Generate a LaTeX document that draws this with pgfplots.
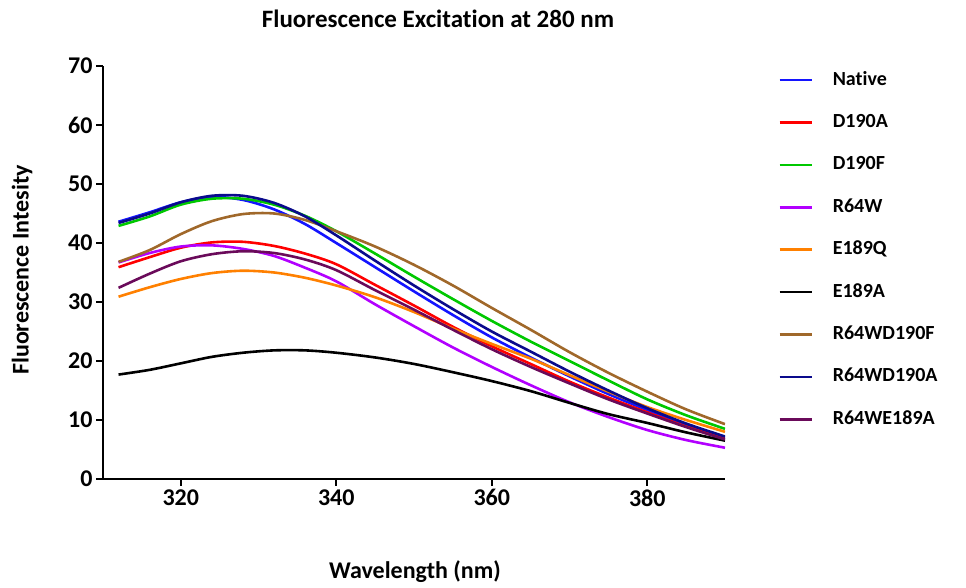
\documentclass[border=0pt]{standalone}
\usepackage{fontspec}
\setmainfont{Carlito}[Ligatures=NoCommon]
\usepackage{pgfplots}
\pgfplotsset{compat=1.18}
\definecolor{cNative}{RGB}{20,20,255}
\definecolor{cD190A}{RGB}{255,0,0}
\definecolor{cD190F}{RGB}{0,200,0}
\definecolor{cR64W}{RGB}{178,0,255}
\definecolor{cE189Q}{RGB}{255,128,0}
\definecolor{cE189A}{RGB}{0,0,0}
\definecolor{cR64WD190F}{RGB}{160,104,42}
\definecolor{cR64WD190A}{RGB}{10,10,140}
\definecolor{cR64WE189A}{RGB}{106,10,90}
\begin{document}
\begin{tikzpicture}
\path[use as bounding box] (0,0) rectangle (966pt,588pt);
\begin{axis}[
  at={(103pt,109pt)}, anchor=south west,
  width=622pt, height=413pt, scale only axis,
  xmin=310, xmax=390, ymin=0, ymax=70,
  axis x line*=bottom, axis y line*=left,
  axis line style={-, line width=2pt},
  xtick={320,340,360,380}, ytick={0,10,...,70},
  tick align=outside, major tick length=7pt,
  tick style={line width=2pt, black},
  ticklabel style={font=\fontsize{24}{28}\selectfont\bfseries},
  /pgf/number format/assume math mode=true,
  /pgf/number format/1000 sep={},
  every axis plot/.append style={line width=2.6pt, smooth, no markers},
  legend image code/.code={\draw[#1] (0pt,0pt) -- (32pt,0pt);},
  legend style={draw=none, fill=none, at={(1.0804,0.993)}, anchor=north west,
    font=\fontsize{20}{24}\selectfont\bfseries,
    nodes={inner sep=0pt, text height=14pt, text depth=4pt},
    row sep=24.4pt,
    /tikz/every odd column/.append style={column sep=20pt}},
  legend cell align=left,
]
\addplot[cNative] coordinates {(312,43.6)(316,45.2)(320,46.9)(324,47.8)(328,47.3)(332,45.7)(336,43.2)(340,40.0)(345,35.9)(350,31.8)(355,27.8)(360,24.0)(365,20.6)(370,17.4)(375,14.4)(380,11.7)(385,9.2)(390,7.0)};
\addlegendentry{Native}
\addplot[cD190A] coordinates {(312,35.9)(316,37.6)(320,39.2)(324,40.1)(328,40.2)(332,39.5)(336,38.2)(340,36.4)(345,32.9)(350,29.4)(355,25.8)(360,22.5)(365,19.5)(370,16.5)(375,13.8)(380,11.3)(385,8.9)(390,6.8)};
\addlegendentry{D190A}
\addplot[cD190F] coordinates {(312,42.9)(316,44.5)(320,46.5)(324,47.5)(328,47.5)(332,46.5)(336,44.6)(340,42.0)(345,38.2)(350,34.3)(355,30.5)(360,26.8)(365,23.3)(370,20.0)(375,16.7)(380,13.5)(385,10.8)(390,8.5)};
\addlegendentry{D190F}
\addplot[cR64W] coordinates {(312,36.7)(316,38.3)(320,39.4)(324,39.6)(328,39.0)(332,37.8)(336,35.8)(340,33.5)(345,29.6)(350,25.9)(355,22.3)(360,19.0)(365,15.9)(370,13.0)(375,10.5)(380,8.3)(385,6.6)(390,5.3)};
\addlegendentry{R64W}
\addplot[cE189Q] coordinates {(312,30.9)(316,32.5)(320,33.9)(324,34.9)(328,35.3)(332,35.0)(336,34.1)(340,32.8)(345,30.8)(350,28.3)(355,25.5)(360,22.9)(365,20.4)(370,17.6)(375,14.8)(380,12.2)(385,10.0)(390,8.0)};
\addlegendentry{E189Q}
\addplot[cE189A] coordinates {(312,17.7)(316,18.5)(320,19.6)(324,20.7)(328,21.4)(332,21.8)(336,21.8)(340,21.4)(345,20.6)(350,19.5)(355,18.1)(360,16.6)(365,14.9)(370,12.9)(375,11.0)(380,9.5)(385,7.9)(390,6.5)};
\addlegendentry{E189A}
\addplot[cR64WD190F] coordinates {(312,36.8)(316,38.8)(320,41.5)(324,43.7)(328,44.9)(332,45.0)(336,43.9)(340,42.0)(345,39.4)(350,36.3)(355,32.8)(360,29.0)(365,25.3)(370,21.5)(375,18.0)(380,14.8)(385,11.8)(390,9.3)};
\addlegendentry{R64WD190F}
\addplot[cR64WD190A] coordinates {(312,43.4)(316,45.0)(320,46.9)(324,48.0)(328,48.0)(332,46.8)(336,44.5)(340,41.3)(345,37.0)(350,32.8)(355,28.8)(360,25.0)(365,21.6)(370,18.2)(375,15.0)(380,12.0)(385,9.4)(390,7.2)};
\addlegendentry{R64WD190A}
\addplot[cR64WE189A] coordinates {(312,32.4)(316,34.8)(320,36.9)(324,38.1)(328,38.6)(332,38.3)(336,37.2)(340,35.4)(345,32.0)(350,28.7)(355,25.3)(360,22.0)(365,19.0)(370,16.2)(375,13.5)(380,11.1)(385,8.8)(390,6.7)};
\addlegendentry{R64WE189A}
\end{axis}
\node[font=\fontsize{25}{30}\selectfont\bfseries] at (438pt,569pt) {Fluorescence Excitation at 280 nm};
\node[font=\fontsize{24}{28}\selectfont\bfseries] at (415pt,16pt) {Wavelength (nm)};
\node[font=\fontsize{24}{28}\selectfont\bfseries, rotate=90] at (22pt,318pt) {Fluorescence Intesity};
\end{tikzpicture}
\end{document}
